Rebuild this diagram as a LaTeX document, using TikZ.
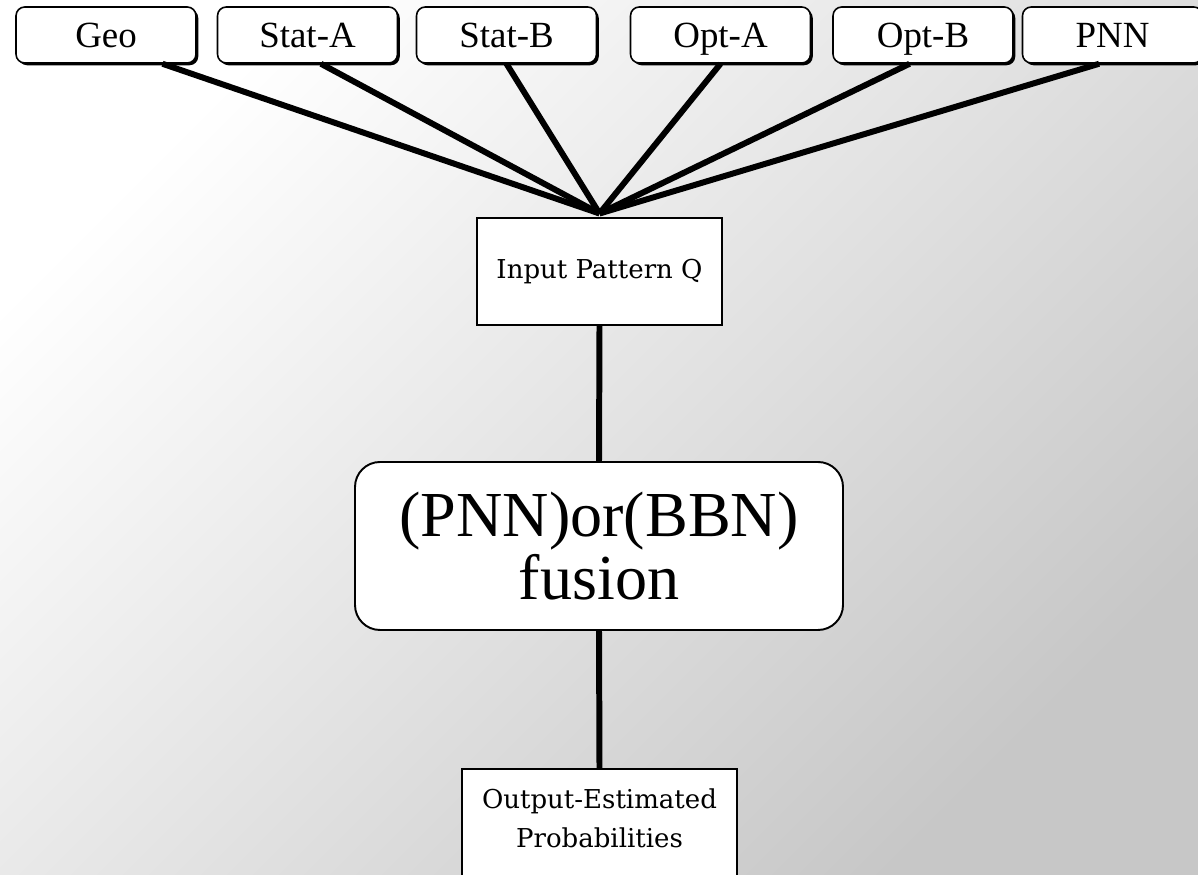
\documentclass[tikz,border=0pt]{standalone}
\usepackage{fontspec}
\setmainfont{Liberation Serif}
\newfontfamily\slabfont{DejaVu Serif}
\usetikzlibrary{shadows}

\begin{document}
\begin{tikzpicture}[
    source/.style={draw, line width=0.9pt, fill=white, rounded corners=5pt,
      minimum width=3.6cm, minimum height=1.12cm, font=\fontsize{21}{24}\selectfont,
      text height=14pt, text depth=0pt,
      drop shadow={shadow xshift=1.3pt, shadow yshift=-1.3pt, fill=black, opacity=1}},
    plainbox/.style={draw, line width=1.1pt, fill=white, align=center,
      font=\slabfont\fontsize{14.8}{22}\selectfont},
    wire/.style={line width=3.4pt}]
  % grey wash behind the diagram
  \useasboundingbox (0,0) rectangle (23.96,17.5);
  \clip (0,0) rectangle (23.96,17.5);
  \shade[top color=white, bottom color=black!22, shading angle=45] (0,0) rectangle (23.96,17.5);

  % the six sources
  \node[source] (geo)   at (2.12,16.8)  {Geo};
  \node[source] (stata) at (6.15,16.8)  {Stat-A};
  \node[source] (statb) at (10.13,16.8) {Stat-B};
  \node[source] (opta)  at (14.41,16.8) {Opt-A};
  \node[source] (optb)  at (18.46,16.8) {Opt-B};
  \node[source] (pnn)   at (22.25,16.8) {PNN};

  % pattern, fusion, output
  \node[plainbox, minimum width=4.9cm, minimum height=2.14cm] (inp) at (11.99,12.07) {Input Pattern Q};
  \node[draw, line width=1.1pt, fill=white, rounded corners=0.5cm, minimum width=9.76cm,
    minimum height=3.36cm, align=center, font=\fontsize{36.5}{36}\selectfont]
    (fus) at (11.98,6.58) {(PNN)or(BBN)\\fusion};
  % output box runs off the bottom edge
  \node[plainbox, minimum width=5.5cm, inner ysep=11pt, text depth=1.4cm, anchor=north]
    (out) at (11.99,2.13) {Output-Estimated\\Probabilities};
  \coordinate (hub) at ([yshift=2pt]inp.north);

  % wires
  \draw[wire] (geo.-27) -- (hub);
  \draw[wire] (stata.-65) -- (hub);
  \draw[wire] (statb.south) -- (hub);
  \draw[wire] (opta.south) -- (hub);
  \draw[wire] (optb.-115) -- (hub);
  \draw[wire] (pnn.-115) -- (hub);
  \draw[wire] (inp.south) -- (fus.north);
  \draw[wire] (fus.south) -- (out.north);
\end{tikzpicture}
\end{document}
